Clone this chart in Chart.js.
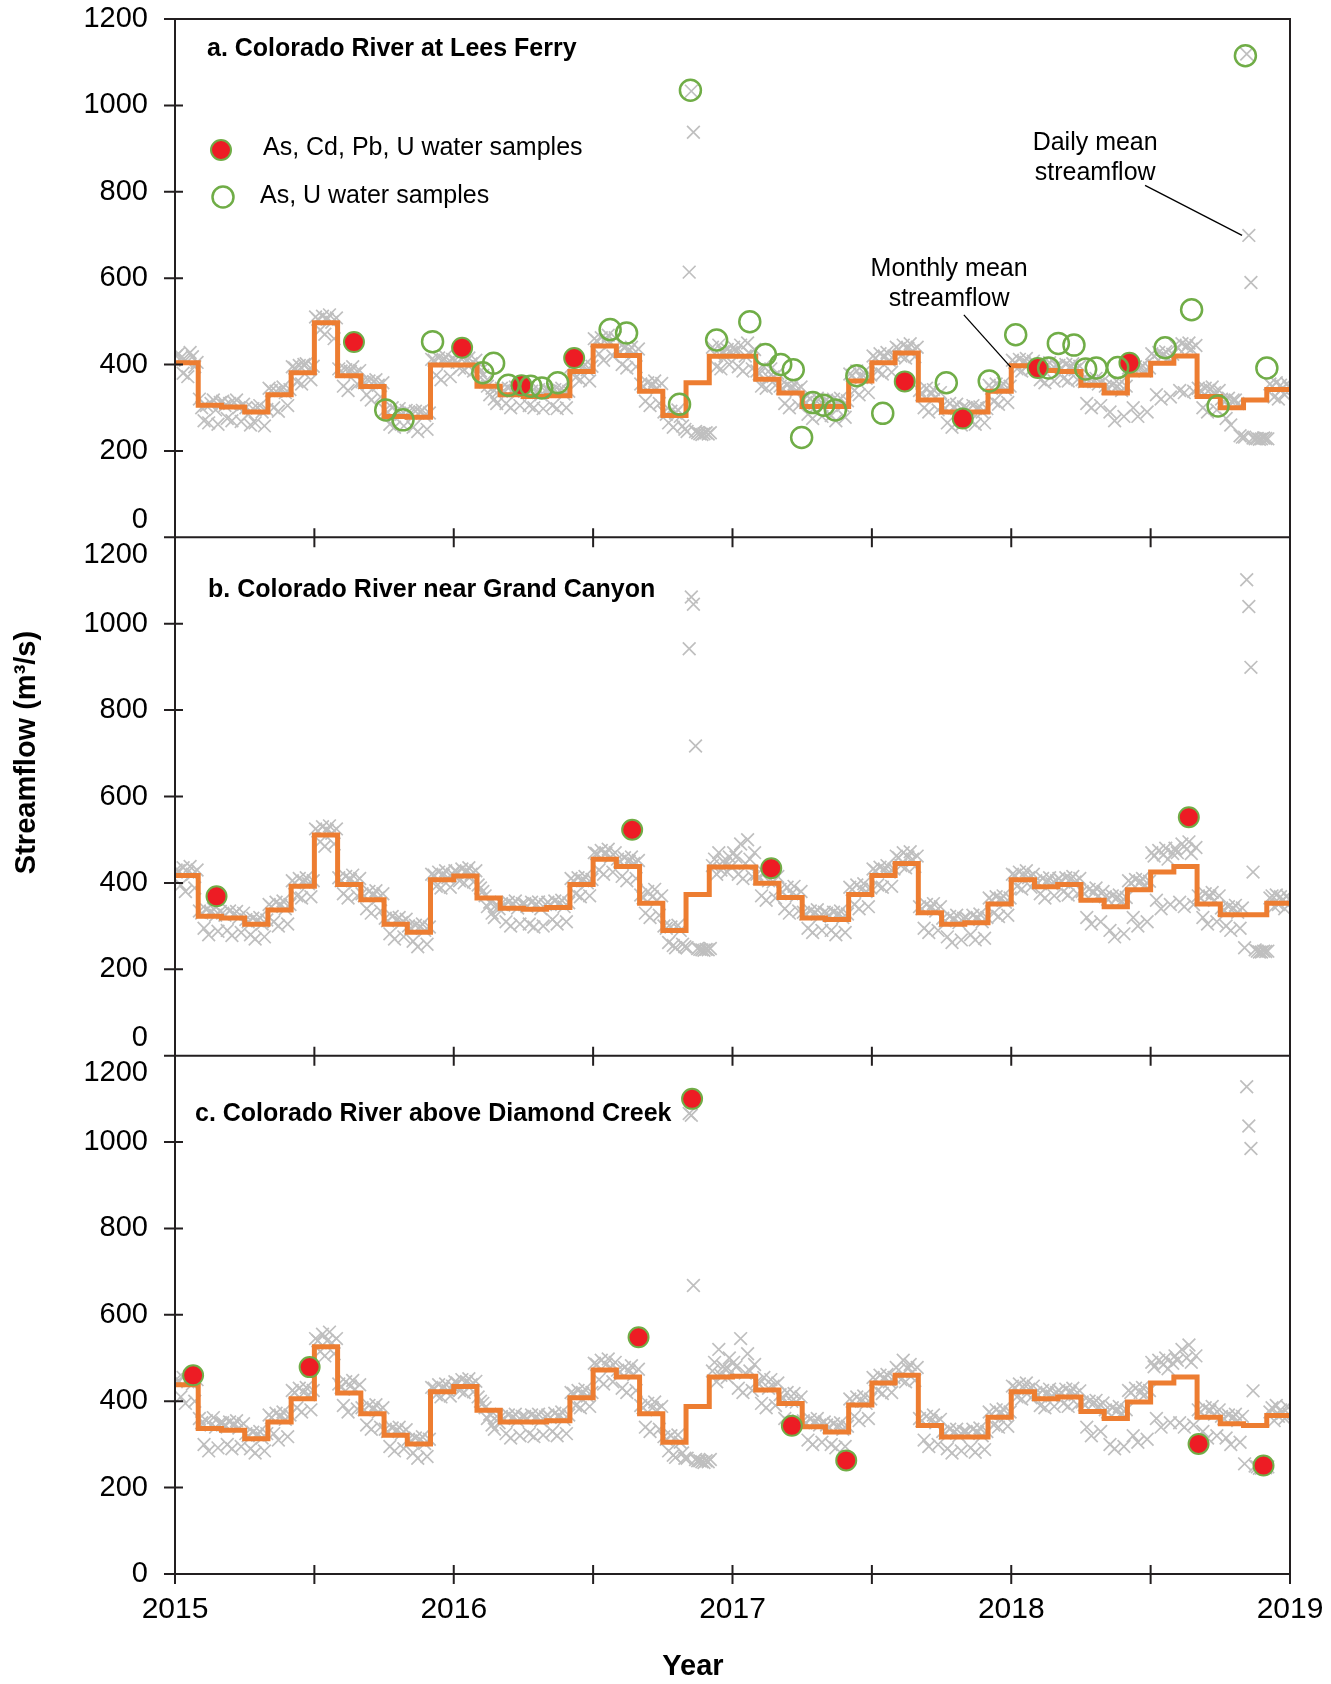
<!DOCTYPE html>
<html>
<head>
<meta charset="utf-8">
<script src="https://cdn.jsdelivr.net/npm/chart.js@4.4.1/dist/chart.umd.min.js"></script>
<style>
html,body{margin:0;padding:0;background:#fff;}
canvas{display:block;}
</style>
</head>
<body>
<canvas id="c" width="1331" height="1684"></canvas>
<script>
// ---------------- DATA ----------------
const START_YEAR = 2015;
const END_YEAR = 2019;
const yTickValues = [0, 200, 400, 600, 800, 1000, 1200];
const yearTicks = [2015, 2016, 2017, 2018, 2019];
const panelTitles = [
  'a. Colorado River at Lees Ferry',
  'b. Colorado River near Grand Canyon',
  'c. Colorado River above Diamond Creek'
];
const legendLabels = ['As, Cd, Pb, U water samples', 'As, U water samples'];
const yAxisTitle = 'Streamflow (m\u00B3/s)';
const xAxisTitle = 'Year';

// Monthly mean streamflow, Jan 2015 .. Dec 2018 (m3/s)
const monthlyA = [404,306,302,290,330,381,497,374,349,280,278,399,
                  399,350,330,326,328,384,443,421,338,282,358,419,
                  419,366,334,303,303,362,404,427,318,290,290,338,
                  397,386,384,352,334,376,403,420,326,300,318,342];
const monthlyB = [417,323,319,304,337,392,511,396,361,304,286,407,
                  416,365,341,339,343,396,455,438,353,290,373,437,
                  437,399,366,319,315,373,417,445,331,304,308,351,
                  407,391,396,360,345,384,425,438,351,326,326,353];
const monthlyC = [438,337,333,313,352,406,526,419,371,321,301,422,
                  434,379,352,352,355,408,472,456,371,305,388,456,
                  458,426,395,341,329,391,442,460,344,317,317,363,
                  422,406,410,376,360,398,442,456,363,348,344,367];

// Daily mean streamflow samples, one row per month (values spread through the month)
const dailyA = [
  [420,425,415,380,410,372,428,418,395,405],[320,300,270,305,265,310,318,295,262,312],
  [315,305,275,310,270,312,318,300,268,308],[300,285,260,298,265,300,305,290,258,296],
  [345,340,300,338,292,340,348,335,305,342],[395,392,360,398,355,400,402,388,365,396],
  [510,505,480,512,470,505,515,498,460,508],[390,385,350,388,340,384,395,380,355,386],
  [360,358,330,362,318,360,365,352,325,358],[295,290,262,300,255,292,298,285,258,294],
  [290,288,255,292,245,290,294,282,250,288],[412,410,375,415,365,410,418,405,372,412],
  [410,405,392,412,388,408,415,402,385,410],[395,385,375,360,350,330,345,320,310,340],
  [345,340,310,345,300,338,348,335,305,342],[340,335,305,338,300,336,342,330,298,338],
  [340,338,305,342,298,340,345,332,300,338],[395,392,370,398,365,394,400,388,362,396],
  [460,455,425,462,410,458,468,450,420,462],[435,430,400,438,392,432,440,425,395,436],
  [355,350,315,358,305,352,362,345,310,356],[290,285,265,292,255,288,295,280,258,250],
  [245,614,1033,938,245,242,240,238,240,242,239],[242,440,425,395,445,390,430,420,435,400,428],
  [440,430,395,445,385,420,450,425,390,435],[385,378,350,395,345,370,390,372,352,380],
  [350,345,310,352,300,345,355,340,305,348],[318,312,285,320,275,310,322,308,280,315],
  [318,312,282,320,270,315,322,305,278,316],[378,375,340,385,330,370,382,368,335,376],
  [420,415,385,425,378,418,428,410,382,420],[440,436,420,445,415,438,448,432,418,440],
  [340,330,300,345,290,332,342,325,295,335],[305,298,265,310,255,300,308,292,260,302],
  [300,296,270,305,262,300,302,290,265,298],[352,345,315,355,308,348,356,342,312,350],
  [410,405,390,412,385,406,414,400,388,408],[400,395,365,402,358,398,404,390,362,398],
  [398,392,368,400,362,394,402,388,365,396],[365,360,310,362,300,360,368,355,305,362],
  [350,345,290,352,270,348,355,340,280,350],[392,388,300,395,280,390,398,385,290,392],
  [425,420,330,428,320,422,430,415,325,424],[445,440,340,448,335,442,450,436,338,444],
  [345,340,300,345,290,342,348,335,295,340],[320,315,275,322,260,318,318,310,235,232],
  [232,1119,699,590,230,228,229,227,228,230,229],[228,355,350,325,358,320,352,345,330,356,348]
];
const dailyB = [
  [430,428,395,435,380,425,438,420,388,430],[335,330,295,338,280,332,340,325,288,334],
  [330,325,290,335,278,328,334,320,285,330],[315,310,280,318,270,312,320,305,275,314],
  [350,345,310,355,300,348,358,340,305,350],[405,400,370,410,365,402,412,398,368,405],
  [525,520,495,530,485,522,532,515,490,525],[412,405,375,415,365,408,418,400,370,410],
  [375,370,340,380,330,372,382,365,335,375],[318,312,282,322,270,315,320,308,275,316],
  [300,295,265,302,252,298,305,290,258,298],[420,418,392,425,388,418,428,412,390,420],
  [428,425,405,432,400,426,435,420,402,428],[395,388,380,370,345,355,330,320,350,340],
  [352,348,310,355,300,350,358,342,305,352],[352,346,305,355,298,350,356,340,300,350],
  [355,350,315,358,305,352,360,345,310,354],[410,405,375,412,368,405,415,400,370,408],
  [470,468,430,475,420,468,478,460,425,470],[455,450,415,458,405,450,460,445,410,452],
  [372,365,330,380,320,368,385,360,325,370],[300,295,262,298,255,250,302,290,258,252],
  [250,942,1062,1045,717,248,246,245,244,246,245],[248,440,455,420,470,430,450,445,425,460,438],
  [470,460,420,490,410,445,500,455,415,470],[420,410,370,425,360,405,428,402,365,415],
  [385,378,340,390,330,375,392,370,335,380],[332,328,295,335,285,330,338,322,290,332],
  [330,325,290,332,280,326,335,320,285,328],[390,385,350,395,340,385,398,380,345,388],
  [432,428,395,436,390,430,440,425,392,432],[462,458,440,470,435,460,472,455,438,462],
  [345,340,295,350,285,342,352,335,290,345],[318,312,275,322,262,315,325,308,268,318],
  [320,315,280,325,268,318,328,310,272,320],[365,360,330,368,322,362,370,355,325,365],
  [420,418,392,425,386,416,428,412,390,420],[405,400,375,410,365,402,412,398,370,405],
  [410,405,380,412,372,408,415,402,375,410],[380,375,320,385,305,378,388,370,310,380],
  [368,362,290,370,275,365,372,358,282,366],[405,400,320,408,300,402,410,395,310,404],
  [470,462,360,475,340,465,480,455,350,468],[480,470,355,490,345,478,495,468,350,482],
  [370,365,320,375,305,368,378,360,310,370],[342,338,300,345,290,340,348,332,295,342],
  [250,1102,1040,899,425,245,242,240,240,242,241],[242,365,370,345,372,350,368,360,340,370,362]
];
const dailyC = [
  [450,448,410,455,395,445,458,440,400,450],[360,350,300,355,285,345,362,340,292,350],
  [350,345,300,352,290,345,355,338,295,348],[325,320,290,328,280,322,330,315,285,325],
  [368,362,325,372,310,365,375,358,318,368],[425,420,385,430,375,420,432,415,380,425],
  [545,540,515,555,505,540,560,535,510,545],[440,432,390,445,375,435,448,428,382,438],
  [385,380,345,390,335,382,392,375,340,385],[335,330,295,338,285,332,340,325,290,334],
  [312,308,280,315,268,310,318,302,272,312],[432,430,415,438,410,430,440,425,412,435],
  [445,442,425,450,420,445,452,438,422,446],[410,400,395,385,360,370,345,335,365,350],
  [365,360,325,368,315,362,370,355,320,365],[365,360,325,368,318,362,370,355,322,364],
  [368,362,330,372,320,365,375,358,325,368],[420,418,390,425,385,418,428,412,388,420],
  [488,485,450,495,440,485,498,478,445,490],[472,468,430,478,420,470,482,462,425,474],
  [390,385,340,395,330,385,398,380,335,388],[318,312,285,320,275,270,322,305,280,268],
  [268,1066,1062,668,265,262,262,260,258,262,260],[265,470,490,445,520,460,480,475,455,500,468],
  [490,480,430,545,420,465,510,470,425,485],[445,440,395,455,385,430,450,435,390,442],
  [415,405,360,420,350,400,418,398,355,410],[355,350,310,358,300,350,360,345,305,352],
  [345,340,300,348,292,340,350,335,295,342],[405,400,365,410,355,400,412,395,360,405],
  [455,450,425,460,418,452,462,445,420,455],[478,472,450,495,445,475,485,468,448,478],
  [360,355,310,365,295,355,368,350,300,358],[330,326,290,335,280,328,335,320,285,330],
  [330,325,292,335,282,328,338,320,288,330],[375,370,345,380,340,372,382,365,342,375],
  [435,432,410,440,405,430,442,428,408,435],[420,415,390,425,385,418,428,412,388,420],
  [425,420,395,428,388,420,430,415,392,424],[398,392,340,400,320,395,402,388,330,396],
  [380,375,300,385,290,378,388,372,295,380],[425,420,320,430,305,420,432,415,312,425],
  [490,480,360,495,340,485,500,475,350,488],[505,495,350,520,340,500,530,490,345,505],
  [380,375,330,385,315,378,388,370,320,380],[365,360,315,368,300,362,370,355,305,365],
  [255,1128,1037,985,424,250,248,245,245,248,246],[248,375,385,355,390,365,380,372,360,388,370]
];

// Water samples (decimal year, streamflow)
const redA_x = [2015.642, 2016.030, 2016.243, 2016.432, 2017.618, 2017.826, 2018.095, 2018.424];
const redA_y = [452, 439, 352, 415, 361, 275, 392, 404];
const greenA_x = [2015.756, 2015.818, 2015.924, 2016.104, 2016.143, 2016.196, 2016.276, 2016.316, 2016.373,
                  2016.561, 2016.620, 2016.810, 2016.849, 2016.943, 2017.062, 2017.118, 2017.173, 2017.218,
                  2017.248, 2017.288, 2017.327, 2017.369, 2017.446, 2017.539, 2017.767, 2017.921, 2018.016,
                  2018.134, 2018.169, 2018.225, 2018.267, 2018.305, 2018.382, 2018.552, 2018.647, 2018.742,
                  2018.840, 2018.917];
const greenA_y = [295, 272, 453, 381, 403, 352, 350, 346, 358,
                  481, 473, 308, 1035, 457, 499, 423, 400, 388,
                  231, 312, 306, 295, 374, 287, 358, 362, 469,
                  392, 449, 445, 390, 392, 393, 439, 527, 304,
                  1115, 392];
const redB_x = [2015.149, 2016.640, 2017.139, 2018.637];
const redB_y = [369, 523, 434, 552];
const redC_x = [2015.065, 2015.483, 2016.663, 2016.855, 2017.213, 2017.408, 2018.672, 2018.905];
const redC_y = [460, 479, 548, 1100, 343, 263, 301, 251];

// Annotation anchors (decimal year, streamflow) in panel a
const dailyNote = {text: ['Daily mean', 'streamflow'], x: 2018.301, y: [913, 844], from: [2018.480, 815], to: [2018.828, 699]};
const monthlyNote = {text: ['Monthly mean', 'streamflow'], x: 2017.777, y: [620, 552], from: [2017.830, 515], to: [2017.998, 394]};

// ---------------- STYLE / BUILD ----------------
const FONT = '"Liberation Sans", Arial, Helvetica, sans-serif';
Chart.defaults.font.family = FONT;
Chart.defaults.color = '#000';

const GRAY = '#bfbfbf';
const ORANGE = '#ed7d31';
const RED = '#ed1c24';
const GREEN = '#70ad47';

function dailyPoints(rows) {
  const pts = [];
  rows.forEach((vals, m) => {
    vals.forEach((v, k) => pts.push({x: START_YEAR + (m + (k + 0.5) / vals.length) / 12, y: v}));
  });
  return pts;
}
function monthlyPoints(vals) {
  const pts = vals.map((v, m) => ({x: START_YEAR + m / 12, y: v}));
  pts.push({x: END_YEAR, y: vals[vals.length - 1]});
  return pts;
}
function samplePoints(xs, ys) { return xs.map((x, i) => ({x: x, y: ys[i]})); }

function panelDatasets(axis, daily, monthly, red, green) {
  const ds = [
    {type: 'scatter', label: 'daily', yAxisID: axis, data: dailyPoints(daily), pointStyle: 'crossRot',
     pointRadius: 9, pointBorderWidth: 1.7, borderColor: GRAY, backgroundColor: GRAY, order: 4},
    {type: 'line', label: 'monthly', yAxisID: axis, data: monthlyPoints(monthly), stepped: 'before',
     borderColor: ORANGE, borderWidth: 5, pointRadius: 0, fill: false, borderJoinStyle: 'miter', order: 3},
    {type: 'scatter', label: 'red', yAxisID: axis, data: red, pointStyle: 'circle', pointRadius: 10,
     pointBorderWidth: 2, borderColor: GREEN, backgroundColor: RED, order: 2}
  ];
  if (green) {
    ds.push({type: 'scatter', label: 'green', yAxisID: axis, data: green, pointStyle: 'circle', pointRadius: 10.5,
      pointBorderWidth: 2.5, borderColor: GREEN, backgroundColor: 'rgba(0,0,0,0)', order: 1});
  }
  return ds;
}

function yScale(weight, labelFn) {
  return {
    type: 'linear', position: 'left', stack: 'panels', stackWeight: 1, weight: weight,
    min: 0, max: 1200,
    grid: {display: false, drawTicks: false},
    border: {display: false},
    ticks: {stepSize: 200, autoSkip: false, padding: 27, color: '#000',
            font: {size: 29, family: FONT}, callback: labelFn},
    afterFit(s) {
      s.width = 175;
      s.paddingTop = 0; s.paddingBottom = 0; s.paddingLeft = 0; s.paddingRight = 0;
    }
  };
}

const framePlugin = {
  id: 'frame',
  afterDatasetsDraw(chart) {
    const {ctx, chartArea: ca, scales} = chart;
    const xs = scales.x;
    const panels = [scales.ya, scales.yb, scales.yc];
    ctx.save();
    ctx.strokeStyle = '#231f20';
    ctx.lineWidth = 2;
    ctx.beginPath();
    ctx.rect(ca.left, ca.top, ca.right - ca.left, ca.bottom - ca.top);
    panels.forEach(s => {
      yTickValues.forEach(v => {
        const py = s.getPixelForValue(v);
        ctx.moveTo(ca.left - 11, py);
        ctx.lineTo(ca.left + 8, py);
      });
      const by = s.bottom;
      ctx.moveTo(ca.left, by);
      ctx.lineTo(ca.right, by);
      for (let t = START_YEAR; t <= END_YEAR + 1e-9; t += 0.5) {
        const px = xs.getPixelForValue(t);
        ctx.moveTo(px, by - 9);
        ctx.lineTo(px, by + 10);
      }
    });
    ctx.stroke();

    // Panel titles
    ctx.fillStyle = '#000';
    ctx.textBaseline = 'middle';
    ctx.textAlign = 'left';
    ctx.font = 'bold 25px ' + FONT;
    ctx.fillText(panelTitles[0], ca.left + 32, scales.ya.top + 30);
    ctx.fillText(panelTitles[1], ca.left + 33, scales.yb.top + 53);
    ctx.fillText(panelTitles[2], ca.left + 20, scales.yc.top + 58);

    // Legend in panel a
    const lx = ca.left + 46;
    ctx.beginPath();
    ctx.arc(lx, ca.top + 131, 10, 0, Math.PI * 2);
    ctx.fillStyle = RED; ctx.fill();
    ctx.lineWidth = 2; ctx.strokeStyle = GREEN; ctx.stroke();
    ctx.beginPath();
    ctx.arc(lx + 2, ca.top + 178, 10.5, 0, Math.PI * 2);
    ctx.lineWidth = 2.5; ctx.strokeStyle = GREEN; ctx.stroke();
    ctx.fillStyle = '#000';
    ctx.font = '25px ' + FONT;
    ctx.fillText(legendLabels[0], ca.left + 88, ca.top + 129);
    ctx.fillText(legendLabels[1], ca.left + 85, ca.top + 177);

    // Annotations
    const ya = scales.ya;
    ctx.textAlign = 'center';
    [dailyNote, monthlyNote].forEach(n => {
      const cx = xs.getPixelForValue(n.x);
      n.text.forEach((t, i) => ctx.fillText(t, cx, ya.getPixelForValue(n.y[i])));
      ctx.beginPath();
      ctx.moveTo(xs.getPixelForValue(n.from[0]), ya.getPixelForValue(n.from[1]));
      ctx.lineTo(xs.getPixelForValue(n.to[0]), ya.getPixelForValue(n.to[1]));
      ctx.lineWidth = 1.3; ctx.strokeStyle = '#000'; ctx.stroke();
    });

    // Axis titles
    ctx.font = 'bold 29px ' + FONT;
    ctx.textAlign = 'center';
    ctx.fillText(xAxisTitle, 693, chart.height - 17);
    ctx.save();
    ctx.translate(27, (scales.ya.top + scales.yc.bottom) / 2 - 44);
    ctx.rotate(-Math.PI / 2);
    ctx.fillText(yAxisTitle, 0, 0);
    ctx.restore();
    ctx.restore();
  }
};

const datasets = [].concat(
  panelDatasets('ya', dailyA, monthlyA, samplePoints(redA_x, redA_y), samplePoints(greenA_x, greenA_y)),
  panelDatasets('yb', dailyB, monthlyB, samplePoints(redB_x, redB_y), null),
  panelDatasets('yc', dailyC, monthlyC, samplePoints(redC_x, redC_y), null)
);

new Chart(document.getElementById('c'), {
  type: 'scatter',
  data: {datasets: datasets},
  options: {
    responsive: false,
    animation: false,
    devicePixelRatio: 1,
    events: [],
    layout: {padding: {top: 19, right: 41, bottom: 0, left: 0}},
    plugins: {legend: {display: false}, tooltip: {enabled: false}},
    scales: {
      x: {
        type: 'linear', position: 'bottom', min: START_YEAR, max: END_YEAR,
        grid: {display: false, drawTicks: false},
        border: {display: false},
        ticks: {stepSize: 1, autoSkip: false, padding: 18, color: '#000', font: {size: 30, family: FONT},
                callback: v => (yearTicks.includes(v) ? String(v) : '')},
        afterFit(s) {
          s.height = 110;
          s.paddingTop = 0; s.paddingBottom = 0; s.paddingLeft = 0; s.paddingRight = 0;
        }
      },
      yc: yScale(1, v => (v === 1200 ? ['', '1200'] : String(v))),
      yb: yScale(2, v => (v === 0 ? ['0', ''] : (v === 1200 ? ['', '1200'] : String(v)))),
      ya: yScale(3, v => (v === 0 ? ['0', ''] : String(v)))
    }
  },
  plugins: [framePlugin]
});
</script>
</body>
</html>
